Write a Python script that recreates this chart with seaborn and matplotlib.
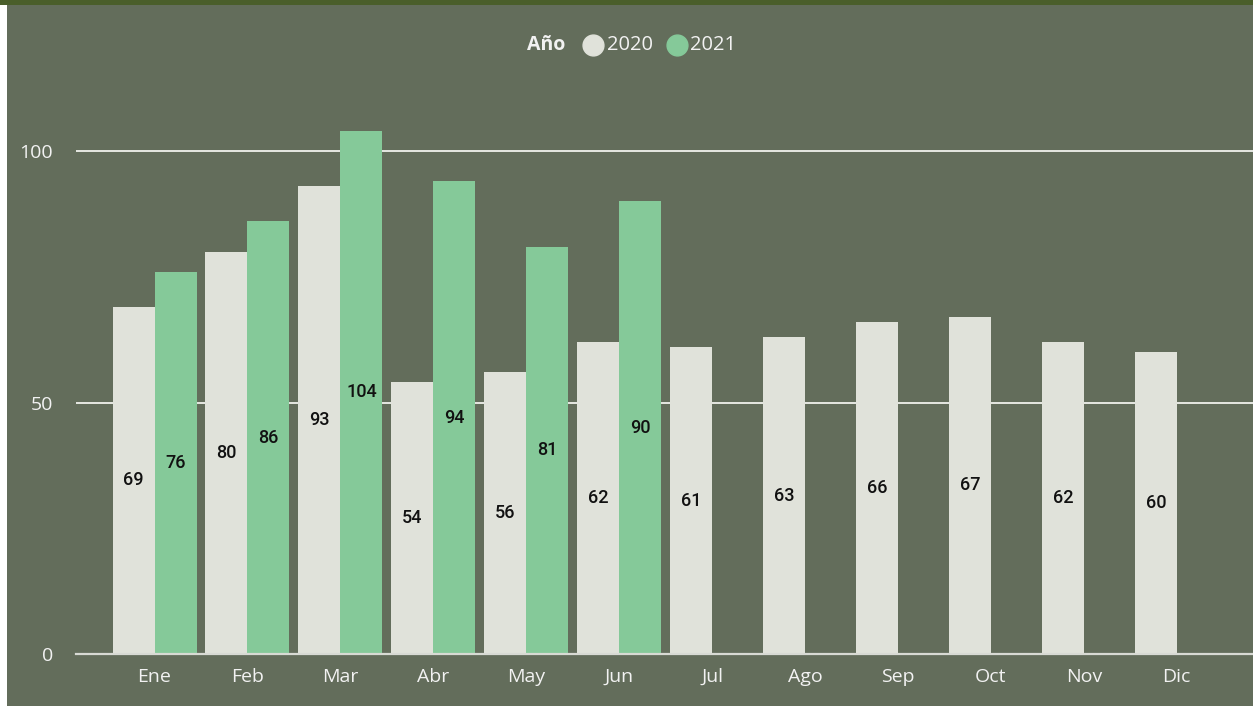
import matplotlib
matplotlib.use("Agg")
import matplotlib.pyplot as plt
from matplotlib.lines import Line2D
from matplotlib.patches import Rectangle
import numpy as np
import pandas as pd
import seaborn as sns

# Monthly counts per year
months = ["Ene", "Feb", "Mar", "Abr", "May", "Jun",
          "Jul", "Ago", "Sep", "Oct", "Nov", "Dic"]
values_2020 = [69, 80, 93, 54, 56, 62, 61, 63, 66, 67, 62, 60]
values_2021 = [76, 86, 104, 94, 81, 90, None, None, None, None, None, None]
years = ["2020", "2021"]
y_ticks = [0, 50, 100]

BG = "#636D5B"
BAND = "#4A5E2A"
C2020 = "#E0E2DA"
C2021 = "#85C999"
TXT = "#F2F2F2"

df = pd.DataFrame({
    "Mes": months * 2,
    "Año": ["2020"] * 12 + ["2021"] * 12,
    "Valor": values_2020 + values_2021,
})
df = df.dropna()

sns.set_theme(style="white")
plt.rcParams["font.family"] = ["Open Sans", "DejaVu Sans"]

W, H = 1253, 709
fig = plt.figure(figsize=(W / 100, H / 100), dpi=100, facecolor="white")

# panel background with thin white margin at left/bottom, dark band on top
fig.patches.append(Rectangle((7 / W, 3 / H), 1 - 7 / W, 1 - 3 / H,
                             transform=fig.transFigure, facecolor=BG,
                             edgecolor="none", zorder=-10))
fig.patches.append(Rectangle((0, 1 - 5 / H), 1, 5 / H,
                             transform=fig.transFigure, facecolor=BAND,
                             edgecolor="none", zorder=-9))

ax_left = 76 / W
ax_bottom = (H - 654) / H
ax_h = (654 - 100.7) / H
ax = fig.add_axes([ax_left, ax_bottom, 1 - ax_left, ax_h])
ax.set_facecolor("none")

sns.barplot(data=df, x="Mes", y="Valor", hue="Año", order=months,
            hue_order=years, palette=[C2020, C2021], width=0.904,
            saturation=1, errorbar=None, ax=ax, legend=False, zorder=3,
            linewidth=0, edgecolor="none")

# value labels centred inside each bar
for container in ax.containers:
    for bar in container:
        h = bar.get_height()
        if np.isnan(h) or h == 0:
            continue
        ax.text(bar.get_x() + bar.get_width() / 2, h / 2, f"{h:.0f}",
                ha="center", va="center", fontsize=13, fontweight="medium",
                color="#111111", family=["Roboto", "DejaVu Sans"], zorder=5)

ax.set_xlim(-0.845, 11.82)
ax.set_ylim(0, 110)
ax.set_yticks(y_ticks)
ax.yaxis.grid(True, color="#E6E8E2", linewidth=1.4, zorder=0)
ax.set_axisbelow(True)
for s in ["top", "right", "left"]:
    ax.spines[s].set_visible(False)
ax.spines["bottom"].set_color("#D8DAD4")
ax.spines["bottom"].set_linewidth(1.6)
ax.spines["bottom"].set_zorder(4)
ax.tick_params(axis="both", length=0, labelsize=14, labelcolor=TXT)
ax.tick_params(axis="y", pad=16.5)
ax.tick_params(axis="x", pad=10)
ax.set_xlabel("")
ax.set_ylabel("")

# legend across the top
ly = 1 - 45 / H
fig.text(546 / W, ly, "Año", ha="center", va="center",
         fontsize=14, fontweight="bold", color=TXT)
for cx, tx, color, label in [(593, 607, C2020, "2020"),
                             (677, 690, C2021, "2021")]:
    fig.add_artist(Line2D([cx / W], [ly], marker="o", linestyle="none",
                          markersize=15, markerfacecolor=color,
                          markeredgecolor=color, transform=fig.transFigure))
    fig.text(tx / W, ly, label, ha="left", va="center", fontsize=14.5,
             color=TXT)

fig.savefig("out.png", dpi=100, facecolor="white")
